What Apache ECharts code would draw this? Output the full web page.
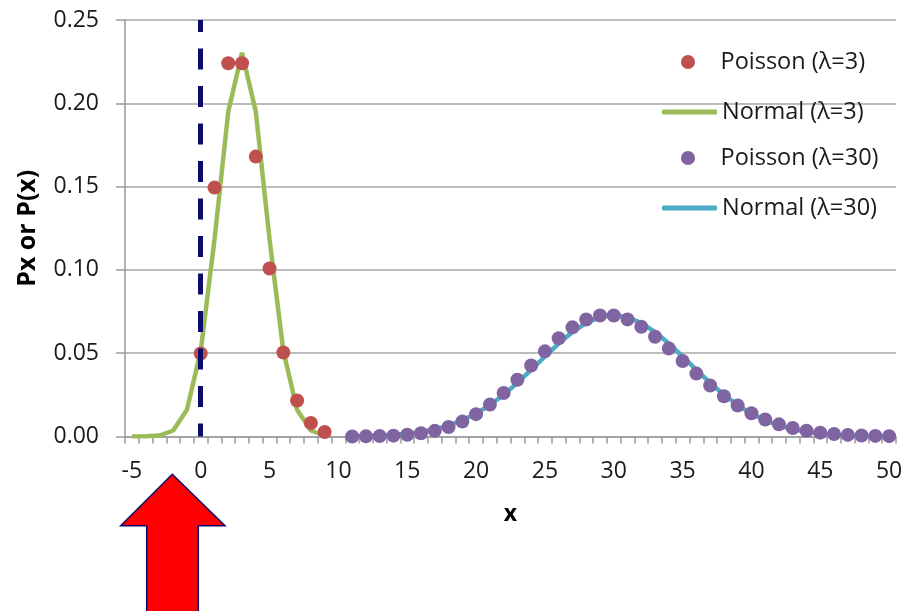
<!DOCTYPE html>
<html>
<head>
<meta charset="utf-8">
<script src="https://cdn.jsdelivr.net/npm/echarts@6/dist/echarts.min.js"></script>
<style>html,body{margin:0;padding:0;background:#fff;}#c{width:906px;height:611px;}</style>
</head>
<body>
<div id="c"></div>
<script>
const categories = ['-5','-4','-3','-2','-1','0','1','2','3','4','5','6','7','8','9','10','11','12','13','14','15','16','17','18','19','20','21','22','23','24','25','26','27','28','29','30','31','32','33','34','35','36','37','38','39','40','41','42','43','44','45','46','47','48','49','50'];

const pois3X = ['0','1','2','3','4','5','6','7','8','9'];
const pois3Y = [0.0498,0.1494,0.2240,0.2240,0.1680,0.1008,0.0504,0.0216,0.0081,0.0027];

const norm3X = ['-5','-4','-3','-2','-1','0','1','2','3','4','5','6','7','8','9'];
const norm3Y = [0.0000,0.0001,0.0006,0.0036,0.0160,0.0514,0.1182,0.1950,0.2303,0.1950,0.1182,0.0514,0.0160,0.0036,0.0006];

const pois30X = ['11','12','13','14','15','16','17','18','19','20','21','22','23','24','25','26','27','28','29','30','31','32','33','34','35','36','37','38','39','40','41','42','43','44','45','46','47','48','49','50'];
const pois30Y = [0.00004,0.00010,0.00024,0.00051,0.00103,0.00193,0.00340,0.00566,0.00894,0.01341,0.01916,0.02612,0.03407,0.04259,0.05111,0.05897,0.06552,0.07020,0.07262,0.07262,0.07028,0.06589,0.05990,0.05285,0.04530,0.03775,0.03061,0.02417,0.01859,0.01394,0.01020,0.00729,0.00508,0.00347,0.00231,0.00151,0.00096,0.00060,0.00037,0.00022];

const norm30X = pois30X;
const norm30Y = [0.00018,0.00033,0.00059,0.00102,0.00171,0.00278,0.00436,0.00661,0.00970,0.01376,0.01888,0.02507,0.03219,0.03998,0.04802,0.05579,0.06269,0.06814,0.07164,0.07284,0.07164,0.06814,0.06269,0.05579,0.04802,0.03998,0.03219,0.02507,0.01888,0.01376,0.00970,0.00661,0.00436,0.00278,0.00171,0.00102,0.00059,0.00033,0.00018,0.00009];

const yTicks = [0, 0.05, 0.10, 0.15, 0.20, 0.25];
const seriesNames = ['Poisson (λ=3)','Normal (λ=3)','Poisson (λ=30)','Normal (λ=30)'];

function pairs(xs, ys){ return xs.map((x,i)=>[x, ys[i]]); }

const FONT = 'Open Sans';
const legendRowTops = [50, 100, 146, 196];
const legendLefts = [681, 662, 681, 662];
const legendIsLine = [false, true, false, true];
const legends = seriesNames.map((n, i) => ({
  orient: 'vertical', left: legendLefts[i], top: legendRowTops[i], padding: 0, itemGap: 5,
  itemWidth: 55, itemHeight: legendIsLine[i] ? 5 : 14,
  textStyle: { fontFamily: FONT, fontSize: 23.5, color: '#1a1a1a', lineHeight: 24 },
  data: [{ name: n, icon: legendIsLine[i] ? 'roundRect' : 'circle' }]
}));

const chart = echarts.init(document.getElementById('c'));
chart.setOption({
  animation: false,
  textStyle: { fontFamily: FONT },
  grid: { left: 125, right: 10, top: 20, bottom: 174.5 },
  legend: legends,
  xAxis: {
    type: 'category', data: categories, boundaryGap: true,
    name: 'x', nameLocation: 'middle', nameGap: 66,
    nameTextStyle: { fontFamily: FONT, fontSize: 23, fontWeight: 'bold', color: '#000' },
    axisLine: { lineStyle: { color: '#9a9a9a', width: 1.5 } },
    axisTick: { show: true, interval: 0, length: 7, lineStyle: { color: '#9a9a9a', width: 1.5 } },
    axisLabel: { interval: 4, margin: 23, fontFamily: FONT, fontSize: 23, color: '#1a1a1a' },
    splitLine: { show: false }
  },
  yAxis: {
    type: 'value', min: yTicks[0], max: yTicks[yTicks.length-1], interval: 0.05,
    name: 'Px or P(x)', nameLocation: 'middle', nameGap: 85, nameRotate: 90,
    nameTextStyle: { fontFamily: FONT, fontSize: 25, fontWeight: 'bold', color: '#000' },
    axisLine: { show: true, lineStyle: { color: '#9a9a9a', width: 1.5 } },
    axisTick: { show: true, length: 9, lineStyle: { color: '#9a9a9a', width: 1.5 } },
    axisLabel: { margin: 26, fontFamily: FONT, fontSize: 23, color: '#1a1a1a', formatter: v => v.toFixed(2) },
    splitLine: { show: true, lineStyle: { color: '#a6a6a6', width: 1.5 } }
  },
  series: [
    {
      name: seriesNames[0], type: 'scatter', z: 4,
      data: pairs(pois3X, pois3Y), symbolSize: 14,
      itemStyle: { color: '#C0504D', opacity: 1 },
      markLine: {
        silent: true, symbol: 'none', z: 10,
        label: { show: false },
        lineStyle: { color: '#0b0b6e', width: 5, type: [21, 16.5], dashOffset: 9 },
        data: [[{ coord: ['0', 0.25] }, { coord: ['0', 0] }]]
      }
    },
    {
      name: seriesNames[1], type: 'line', z: 3, symbol: 'none',
      data: pairs(norm3X, norm3Y),
      lineStyle: { color: '#9BBB59', width: 4.5 }, itemStyle: { color: '#9BBB59' }
    },
    {
      name: seriesNames[2], type: 'scatter', z: 4,
      data: pairs(pois30X, pois30Y), symbolSize: 14,
      itemStyle: { color: '#8064A2', opacity: 1 }
    },
    {
      name: seriesNames[3], type: 'line', z: 3, symbol: 'none',
      data: pairs(norm30X, norm30Y),
      lineStyle: { color: '#4BACC6', width: 4.5 }, itemStyle: { color: '#4BACC6' }
    }
  ],
  graphic: [{
    type: 'polygon', z: 100,
    shape: { points: [[172.3,474.3],[225,525.7],[198.3,525.7],[198.3,620],[146.7,620],[146.7,525.7],[120.7,525.7]] },
    style: { fill: '#FF0000', stroke: '#0b0b6e', lineWidth: 1.5 }
  }]
});
</script>
</body>
</html>
